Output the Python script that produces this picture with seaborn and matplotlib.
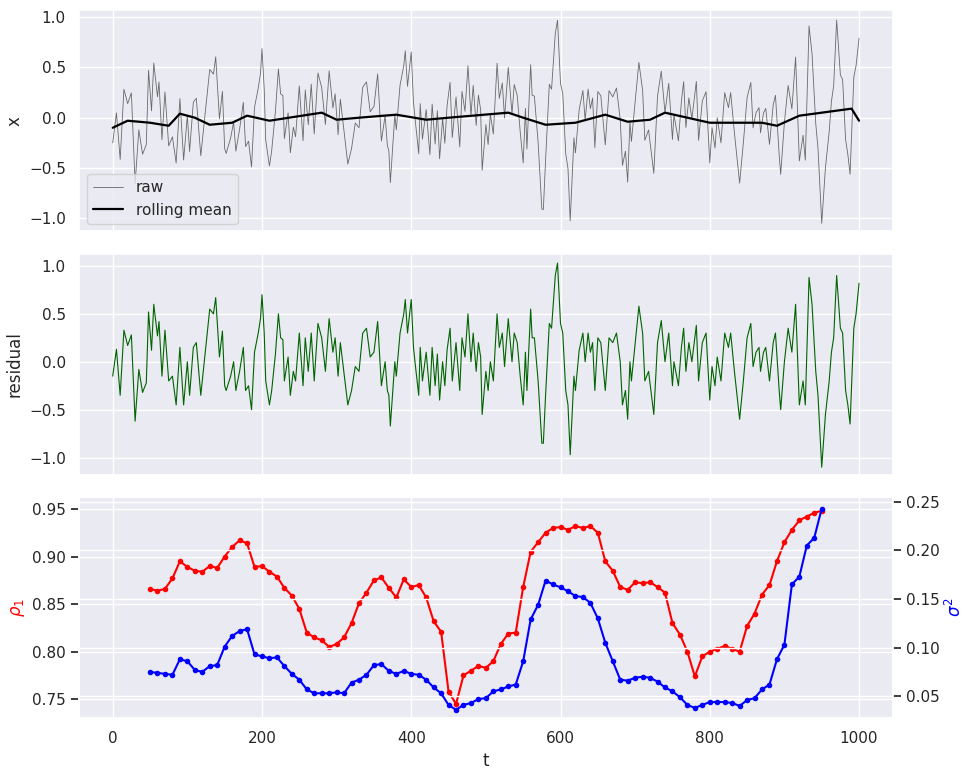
import numpy as np
import matplotlib
matplotlib.use("Agg")
import matplotlib.pyplot as plt
import seaborn as sns

sns.set_theme(style="darkgrid")

# residual series (t, value)
t_res = [0, 5, 10, 15, 20, 25, 30, 35, 40, 45, 48, 52, 55, 60, 62, 66, 70, 75, 80, 85, 90, 95,
         100, 103, 108, 112, 118, 130, 135, 138, 143, 147, 150, 152, 158, 162, 165, 170, 175, 178,
         182, 186, 190, 195, 198, 200, 203, 205, 210, 213, 218, 222, 225, 228, 230, 235, 238, 242,
         245, 250, 255, 258, 262, 266, 270, 275, 280, 285, 290, 295, 298, 302, 305, 315, 320, 325,
         330, 335, 340, 345, 350, 355, 360, 365, 368, 370, 372, 378, 380, 385, 390, 392, 395, 400,
         403, 405, 410, 412, 415, 420, 425, 428, 432, 435, 438, 442, 445, 448, 452, 455, 460, 465,
         468, 472, 476, 480, 483, 487, 490, 493, 495, 500, 503, 506, 510, 515, 518, 522, 525, 530,
         535, 538, 542, 546, 550, 553, 555, 560, 562, 565, 570, 575, 577, 580, 585, 588, 593, 596,
         600, 603, 607, 610, 613, 618, 620, 625, 630, 633, 637, 640, 643, 646, 650, 654, 660, 665,
         670, 675, 680, 683, 687, 690, 693, 695, 705, 710, 713, 718, 725, 730, 735, 740, 745, 750,
         752, 758, 762, 765, 768, 772, 776, 782, 785, 790, 795, 800, 803, 807, 810, 815, 820, 825,
         828, 833, 840, 845, 850, 855, 858, 862, 866, 868, 872, 875, 880, 885, 888, 893, 895, 900,
         905, 910, 915, 920, 925, 928, 933, 937, 942, 945, 950, 955, 960, 963, 966, 970, 975, 978,
         982, 985, 988, 993, 996, 1000]
residual = [-0.15, 0.13, -0.35, 0.33, 0.17, 0.28, -0.62, -0.08, -0.32, -0.22, 0.52, 0.12, 0.6, 0.27,
            0.42, -0.15, 0.33, -0.2, -0.15, -0.45, 0.15, -0.45, 0.0, -0.35, 0.15, 0.2, -0.35, 0.55,
            0.5, 0.67, 0.05, 0.32, -0.25, -0.3, -0.15, 0.0, -0.3, -0.1, 0.15, -0.3, -0.25, -0.5,
            0.1, 0.3, 0.45, 0.7, 0.3, -0.2, -0.45, -0.3, 0.08, 0.5, 0.25, 0.23, -0.2, 0.05, -0.35,
            -0.1, -0.2, 0.3, -0.25, 0.25, -0.1, 0.3, -0.2, 0.4, 0.25, -0.1, 0.45, 0.1, 0.25, -0.15,
            0.2, -0.45, -0.3, -0.05, -0.1, 0.3, 0.35, 0.05, 0.1, 0.42, -0.25, 0.0, -0.3, -0.35, -0.67,
            0.0, -0.15, 0.3, 0.5, 0.65, 0.3, 0.65, 0.15, 0.0, -0.35, 0.15, -0.2, 0.1, -0.35, 0.15,
            -0.25, 0.08, -0.4, 0.0, -0.25, 0.12, 0.35, -0.2, 0.2, -0.3, 0.25, 0.05, 0.5, 0.0, 0.3,
            -0.1, 0.2, 0.05, -0.55, -0.1, -0.3, 0.0, -0.2, 0.5, 0.15, 0.3, -0.05, 0.45, 0.0, 0.3,
            0.2, -0.15, -0.45, 0.1, -0.3, 0.55, 0.25, 0.25, -0.2, -0.85, -0.85, -0.35, 0.4, 0.35,
            0.9, 1.03, 0.4, 0.3, -0.3, -0.45, -0.97, -0.15, -0.3, 0.12, 0.3, 0.0, 0.3, 0.1, 0.2,
            -0.3, 0.25, 0.2, -0.3, 0.25, 0.2, 0.3, 0.0, -0.45, -0.3, -0.6, 0.0, -0.2, 0.58, 0.3,
            -0.2, -0.1, -0.55, 0.2, 0.43, 0.0, 0.3, -0.25, 0.0, -0.25, 0.15, 0.35, -0.1, 0.2, 0.0,
            0.38, -0.2, 0.2, 0.3, -0.4, -0.05, -0.25, 0.05, -0.2, 0.3, 0.15, 0.3, -0.1, -0.6, -0.2,
            0.25, 0.4, -0.05, 0.1, 0.15, -0.1, 0.1, 0.15, -0.2, 0.2, 0.3, -0.3, -0.5, 0.0, 0.35,
            0.1, 0.6, -0.45, -0.2, -0.45, 0.88, 0.6, -0.1, -0.35, -1.1, -0.55, -0.2, 0.1, 0.25, 0.9,
            0.35, 0.3, -0.3, -0.45, -0.65, 0.35, 0.5, 0.82]

# rolling mean
t_mean = [0, 20, 50, 75, 90, 110, 130, 160, 180, 210, 280, 300, 330, 380, 420, 450, 530, 550,
          580, 620, 660, 690, 720, 740, 800, 870, 890, 920, 960, 990, 1000]
roll_mean = [-0.1, -0.03, -0.05, -0.08, 0.04, 0.0, -0.07, -0.05, 0.02, -0.03, 0.05, -0.02, 0.0,
             0.03, -0.02, 0.0, 0.05, 0.0, -0.07, -0.05, 0.03, -0.04, -0.02, 0.05, -0.05, -0.05,
             -0.08, 0.02, 0.06, 0.09, -0.03]

# rolling lag-1 autocorrelation and variance
t_roll = [50, 60, 70, 80, 90, 100, 110, 120, 130, 140, 150, 160, 170, 180, 190, 200, 210, 220,
          230, 240, 250, 260, 270, 280, 290, 300, 310, 320, 330, 340, 350, 360, 370, 380, 390,
          400, 410, 420, 430, 440, 450, 460, 470, 480, 490, 500, 510, 520, 530, 540, 550, 560,
          570, 580, 590, 600, 610, 620, 630, 640, 650, 660, 670, 680, 690, 700, 710, 720, 730,
          740, 750, 760, 770, 780, 790, 800, 810, 820, 830, 840, 850, 860, 870, 880, 890, 900,
          910, 920, 930, 940, 950]
rho1 = [0.866, 0.864, 0.866, 0.877, 0.895, 0.889, 0.885, 0.884, 0.890, 0.888, 0.900, 0.910, 0.917,
        0.914, 0.889, 0.890, 0.884, 0.879, 0.867, 0.859, 0.845, 0.820, 0.815, 0.812, 0.805, 0.808,
        0.815, 0.830, 0.851, 0.862, 0.875, 0.878, 0.867, 0.857, 0.876, 0.868, 0.870, 0.857, 0.832,
        0.821, 0.758, 0.745, 0.775, 0.780, 0.785, 0.783, 0.790, 0.808, 0.819, 0.820, 0.868, 0.905,
        0.915, 0.925, 0.930, 0.931, 0.928, 0.932, 0.930, 0.932, 0.925, 0.895, 0.885, 0.868, 0.865,
        0.873, 0.872, 0.873, 0.868, 0.862, 0.830, 0.818, 0.800, 0.774, 0.795, 0.800, 0.803, 0.806,
        0.803, 0.800, 0.827, 0.840, 0.860, 0.870, 0.895, 0.915, 0.928, 0.938, 0.942, 0.946, 0.948]
sigma2 = [0.075, 0.074, 0.073, 0.072, 0.088, 0.086, 0.077, 0.075, 0.081, 0.082, 0.101, 0.112, 0.117,
          0.119, 0.093, 0.091, 0.089, 0.090, 0.081, 0.073, 0.067, 0.057, 0.053, 0.053, 0.053, 0.054,
          0.053, 0.064, 0.067, 0.072, 0.082, 0.083, 0.076, 0.073, 0.076, 0.073, 0.072, 0.067, 0.059,
          0.053, 0.041, 0.036, 0.041, 0.043, 0.047, 0.048, 0.055, 0.057, 0.060, 0.062, 0.086, 0.129,
          0.144, 0.169, 0.165, 0.162, 0.158, 0.153, 0.152, 0.146, 0.130, 0.105, 0.086, 0.067, 0.066,
          0.069, 0.070, 0.069, 0.065, 0.059, 0.055, 0.049, 0.041, 0.038, 0.041, 0.044, 0.044, 0.044,
          0.043, 0.040, 0.046, 0.048, 0.057, 0.062, 0.088, 0.103, 0.165, 0.173, 0.205, 0.213, 0.243]

t_res = np.array(t_res)
residual = np.array(residual)
mean_at_res = np.interp(t_res, t_mean, roll_mean)
raw = residual + mean_at_res

fig, axes = plt.subplots(3, 1, figsize=(9.65, 7.74), dpi=100, sharex=True)
fig.subplots_adjust(left=0.082, right=0.925, top=0.987, bottom=0.072, hspace=0.1)

ax = axes[0]
sns.lineplot(x=t_res, y=raw, ax=ax, color="dimgray", linewidth=0.6, label="raw")
sns.lineplot(x=t_mean, y=roll_mean, ax=ax, color="black", linewidth=1.6, label="rolling mean")
ax.set_ylabel("x")
ax.set_ylim(-1.13, 1.07)
ax.legend(loc="lower left")

ax = axes[1]
sns.lineplot(x=t_res, y=residual, ax=ax, color="darkgreen", linewidth=0.8)
ax.set_ylabel("residual")
ax.set_ylim(-1.18, 1.13)

ax = axes[2]
sns.lineplot(x=t_roll, y=rho1, ax=ax, color="red", marker="o", markersize=4,
             markeredgewidth=0, linewidth=1.5)
ax.set_ylabel(r"$\rho_1$", color="red")
ax.set_ylim(0.730, 0.9626)
ax.set_xlabel("t")
ax.set_xlim(-45, 1045)
ax2 = ax.twinx()
sns.lineplot(x=t_roll, y=sigma2, ax=ax2, color="blue", marker="o", markersize=4,
             markeredgewidth=0, linewidth=1.5)
ax2.set_ylabel(r"$\sigma^2$", color="blue")
ax2.set_ylim(0.0273, 0.255)
ax2.set_yticks([0.05, 0.10, 0.15, 0.20, 0.25])

fig.savefig("out.png", dpi=100)
